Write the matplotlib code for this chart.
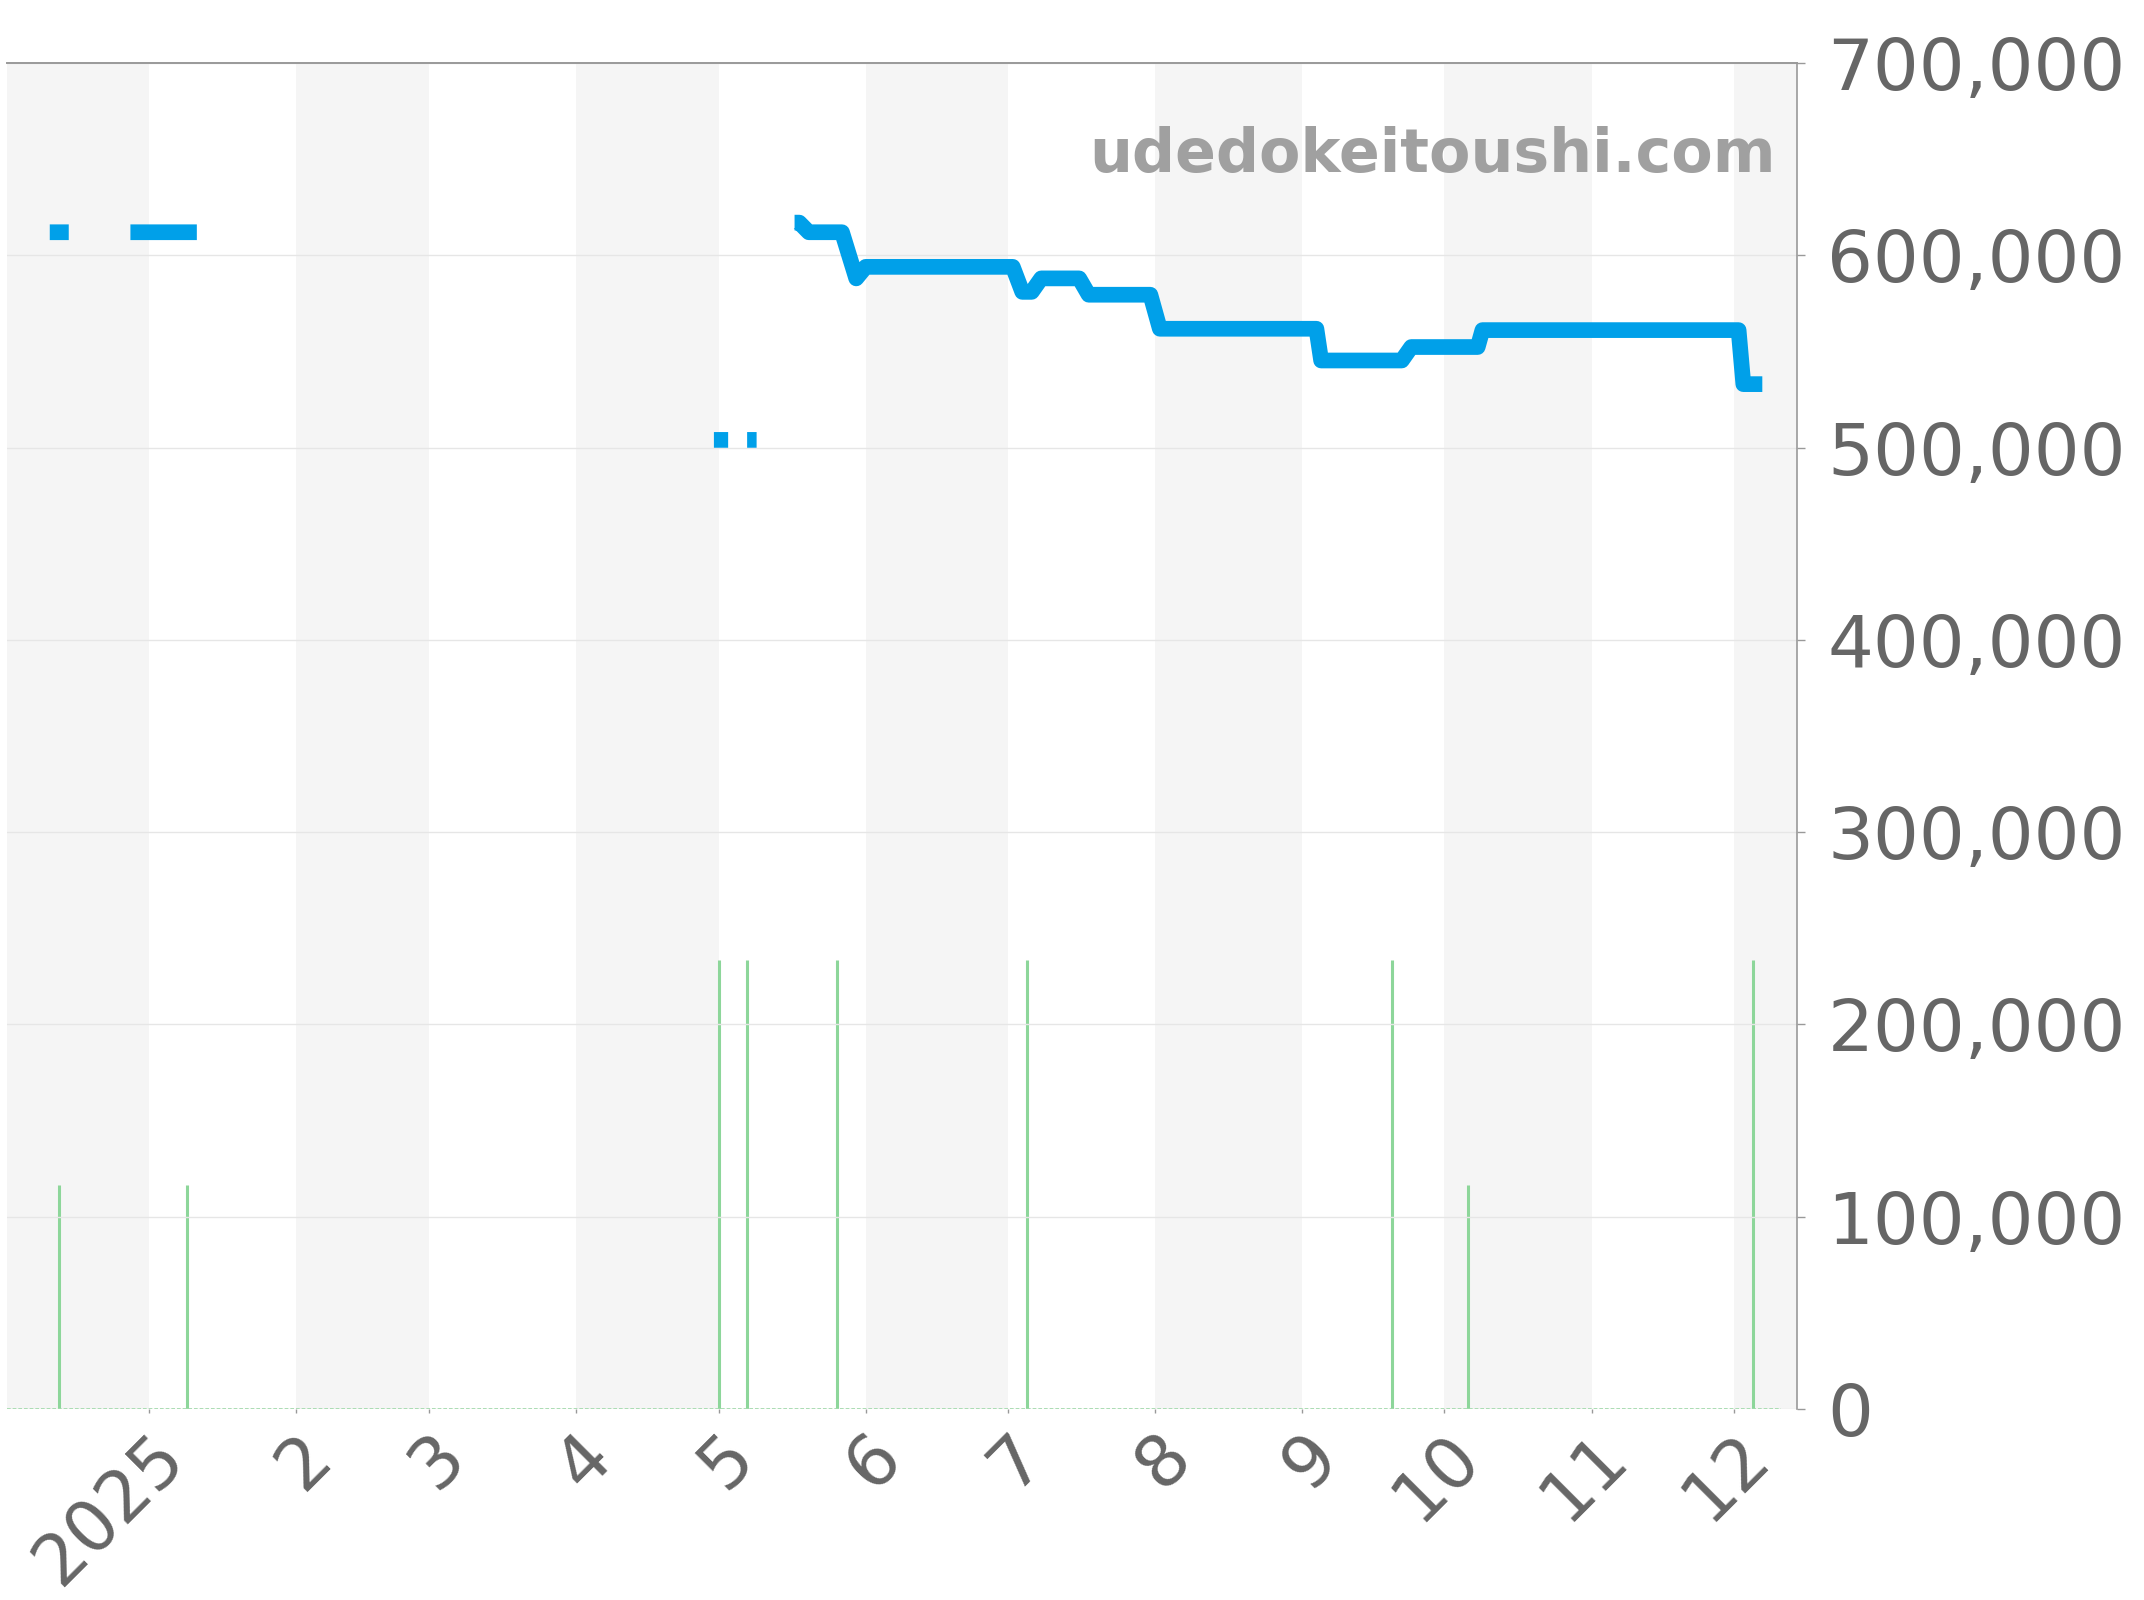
import numpy as np
import pandas as pd
import matplotlib
matplotlib.use("Agg")
import matplotlib.pyplot as plt
from matplotlib.ticker import FuncFormatter

# price line vertices, NaN rows split the line into pieces
price_dates = ["2024-12-11", "2024-12-15", "2024-12-20",
               "2024-12-28", "2025-01-11", "2025-02-01",
               "2025-04-30", "2025-05-03", "2025-05-05",
               "2025-05-07", "2025-05-09", "2025-05-12",
               "2025-05-17", "2025-05-18", "2025-05-20", "2025-05-27", "2025-05-30", "2025-06-01",
               "2025-07-02", "2025-07-04", "2025-07-06", "2025-07-08", "2025-07-16", "2025-07-18",
               "2025-07-31", "2025-08-02", "2025-09-04", "2025-09-05", "2025-09-22", "2025-09-24",
               "2025-10-08", "2025-10-09", "2025-12-02", "2025-12-03", "2025-12-07"]
price_values = [612000, 612000, np.nan,
                612000, 612000, np.nan,
                504000, 504000, np.nan,
                504000, 504000, np.nan,
                617000, 617000, 612000, 612000, 588000, 594000,
                594000, 581000, 581000, 588000, 588000, 579500,
                579500, 561800, 561800, 545300, 545300, 552300,
                552300, 561100, 561100, 533000, 533000]

# listings per day
vol_dates = ["2024-12-13", "2025-01-09", "2025-05-01", "2025-05-07", "2025-05-26",
             "2025-07-05", "2025-09-20", "2025-10-06", "2025-12-05"]
vol_counts = [1, 1, 2, 2, 2, 2, 2, 1, 2]
vol_span = ["2024-12-02", "2025-12-11"]

month_labels = ["2025", "2", "3", "4", "5", "6", "7", "8", "9", "10", "11", "12"]
y_ticks = [0, 100000, 200000, 300000, 400000, 500000, 600000, 700000]

x_start = pd.Timestamp("2024-12-02")
x_end = pd.Timestamp("2025-12-14 08:00")

blue = "#00a0e9"
green = "#8dd69a"
txt = "#666666"
edge = "#999999"

fig = plt.figure(figsize=(10.72, 8), dpi=200)
axv = fig.add_axes([0.0033, 0.1194, 0.8349, 0.8412])

# alternating month bands
months = pd.date_range("2024-12-01", "2026-01-01", freq="MS")
for i in range(len(months) - 1):
    if i % 2 == 0:
        axv.axvspan(months[i], months[i + 1], color="#f5f5f5", lw=0, zorder=0)

# volume
axv.vlines(pd.to_datetime(vol_dates), 0, vol_counts, color=green, lw=1.1, zorder=2)
axv.plot(pd.to_datetime(vol_span), [0, 0], color=green, lw=0.6, ls=(0, (2.2, 1.2)), zorder=2)
axv.set_ylim(0, 6)
axv.set_yticks([])
axv.set_xlim(x_start, x_end)
for s in axv.spines.values():
    s.set_visible(False)

ticks = pd.date_range("2025-01-01", "2025-12-01", freq="MS")
axv.set_xticks(ticks)
axv.set_xticklabels(month_labels)
axv.tick_params(axis="x", length=1.5, width=0.5, color=edge, labelsize=25.5,
                labelcolor=txt, pad=3)
for lbl in axv.get_xticklabels():
    lbl.set_rotation(45)
    lbl.set_ha("right")
    lbl.set_va("top")
    lbl.set_rotation_mode("anchor")

# price on right axis
ax = axv.twinx()
ax.plot(pd.to_datetime(price_dates), price_values, color=blue, lw=5.65,
        solid_capstyle="butt", solid_joinstyle="round", zorder=3)
ax.set_ylim(0, 700000)
ax.set_yticks(y_ticks)
ax.yaxis.set_major_formatter(FuncFormatter(lambda v, p: f"{int(v):,}"))
ax.tick_params(axis="y", length=2.9, width=0.5, color=edge, labelsize=26,
               labelcolor=txt, pad=8)
ax.yaxis.grid(True, color="#e6e6e6", lw=0.5)
ax.set_axisbelow(True)
ax.spines["left"].set_visible(False)
ax.spines["bottom"].set_visible(False)
ax.spines["top"].set_color(edge)
ax.spines["right"].set_color(edge)
ax.spines["top"].set_linewidth(0.7)
ax.spines["right"].set_linewidth(0.6)

ax.text(0.988, 0.919, "udedokeitoushi.com", transform=ax.transAxes, ha="right",
        va="baseline", fontsize=21.7, fontweight="bold", color="#a0a0a0")

fig.savefig("out.png", dpi=200)
